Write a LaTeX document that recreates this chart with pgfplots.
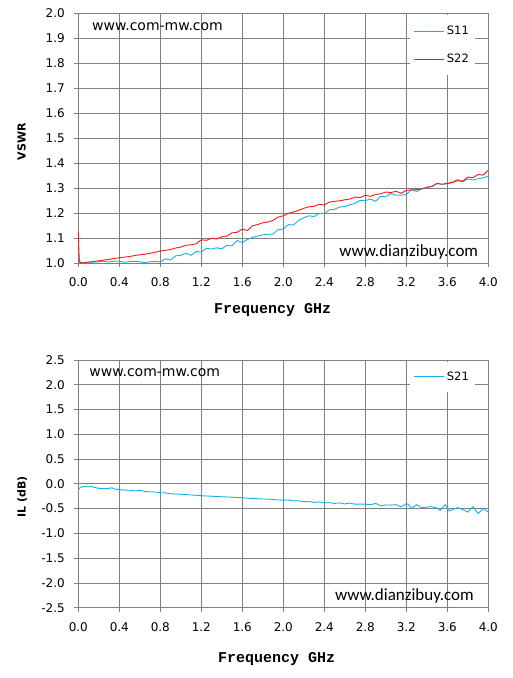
\documentclass[border=0pt]{standalone}
\usepackage{fontspec}
\usepackage{pgfplots}
\pgfplotsset{compat=1.18}
\setmainfont{DejaVu Sans}
\newfontfamily\tickfont{DejaVu Sans}
\newfontfamily\wmB{Carlito}
\newfontfamily\xlabfont{Liberation Mono}
\definecolor{gridgray}{RGB}{128,128,128}
\definecolor{sblue}{RGB}{20,178,235}
\definecolor{sred}{RGB}{255,20,20}
\pgfplotsset{
  myaxis/.style={
    scale only axis, width=410pt, anchor=south west,
    xmin=0, xmax=4,
    xtick={0,0.4,0.8,1.2,1.6,2.0,2.4,2.8,3.2,3.6,4.0},
    grid=major,
    major grid style={draw=gridgray, line width=0.8pt},
    axis line style={draw=gridgray, line width=0.8pt},
    every tick/.style={draw=gridgray, line width=0.8pt},
    tick align=outside, major tick length=4pt,
    xtick pos=bottom, ytick pos=left,
    tick label style={font=\tickfont\fontsize{12}{14}\selectfont, text=black},
    xticklabel style={yshift=-7pt},
    yticklabel style={xshift=-6pt},
    /pgf/number format/.cd, fixed, fixed zerofill, precision=1, assume math mode=true,
    /pgfplots/.cd,
    legend style={draw=none, fill=white, anchor=north east,
      font=\tickfont\fontsize{11.5}{13}\selectfont, cells={anchor=west},
      inner xsep=4pt},
    legend image code/.code={\draw[#1] (0pt,0pt) -- (30pt,0pt);},
    clip=false,
  }
}
\begin{document}
\begin{tikzpicture}
\path[use as bounding box] (0pt,0pt) rectangle (512pt,678pt);
% ---------------- top: VSWR ----------------
\begin{axis}[myaxis, at={(78.3pt,414.7pt)}, height=250pt,
  ymin=1, ymax=2,
  ytick={1.0,1.1,1.2,1.3,1.4,1.5,1.6,1.7,1.8,1.9,2.0},
  legend style={at={(rel axis cs:0.9676,0.993)}, inner ysep=9pt, row sep=14pt},
]
\addplot[sblue, line width=0.9pt] coordinates {
(0.000,1.025) (0.010,1.018) (0.020,1.003) (0.05,1.002) (0.10,1.004) (0.15,1.005)
(0.20,1.006) (0.25,1.008) (0.30,1.005) (0.35,1.009) (0.40,1.008) (0.45,1.004)
(0.50,1.007) (0.55,1.008) (0.60,1.006) (0.65,1.003) (0.70,1.006) (0.75,1.008)
(0.80,1.005) (0.85,1.018) (0.90,1.013) (0.95,1.030) (1.00,1.032) (1.05,1.040)
(1.10,1.032) (1.15,1.047) (1.20,1.045) (1.25,1.060) (1.30,1.057) (1.35,1.062)
(1.40,1.058) (1.45,1.072) (1.50,1.070) (1.55,1.091) (1.60,1.083) (1.65,1.095)
(1.70,1.104) (1.75,1.109) (1.80,1.114) (1.85,1.116) (1.90,1.117) (1.95,1.135)
(2.00,1.137) (2.05,1.155) (2.10,1.153) (2.15,1.172) (2.20,1.182) (2.25,1.190)
(2.30,1.187) (2.35,1.200) (2.40,1.199) (2.45,1.214) (2.50,1.216) (2.55,1.225)
(2.60,1.227) (2.65,1.234) (2.70,1.240) (2.75,1.252) (2.80,1.251) (2.85,1.257)
(2.90,1.248) (2.95,1.268) (3.00,1.266) (3.05,1.280) (3.10,1.272) (3.15,1.273)
(3.20,1.275) (3.25,1.295) (3.30,1.287) (3.35,1.299) (3.40,1.303) (3.45,1.308)
(3.50,1.318) (3.55,1.316) (3.60,1.318) (3.65,1.322) (3.70,1.330) (3.75,1.327)
(3.80,1.337) (3.85,1.333) (3.90,1.338) (3.95,1.342) (4.00,1.348)
};
\addlegendentry{S11}
\addplot[sred, line width=0.9pt] coordinates {
(0.000,1.125) (0.010,1.005) (0.030,1.000) (0.05,1.002) (0.10,1.005) (0.15,1.007)
(0.20,1.010) (0.25,1.013) (0.30,1.016) (0.35,1.019) (0.40,1.022) (0.45,1.025)
(0.50,1.027) (0.55,1.031) (0.60,1.034) (0.65,1.036) (0.70,1.040) (0.75,1.044)
(0.80,1.049) (0.85,1.052) (0.90,1.055) (0.95,1.061) (1.00,1.065) (1.05,1.072)
(1.10,1.074) (1.15,1.078) (1.20,1.094) (1.25,1.092) (1.30,1.100) (1.35,1.097)
(1.40,1.106) (1.45,1.109) (1.50,1.122) (1.55,1.124) (1.60,1.137) (1.65,1.131)
(1.70,1.150) (1.75,1.155) (1.80,1.162) (1.85,1.165) (1.90,1.172) (1.95,1.185)
(2.00,1.190) (2.05,1.200) (2.10,1.205) (2.15,1.212) (2.20,1.220) (2.25,1.226)
(2.30,1.228) (2.35,1.236) (2.40,1.233) (2.45,1.245) (2.50,1.248) (2.55,1.250)
(2.60,1.254) (2.65,1.257) (2.70,1.265) (2.75,1.263) (2.80,1.272) (2.85,1.268)
(2.90,1.275) (2.95,1.278) (3.00,1.285) (3.05,1.283) (3.10,1.288) (3.15,1.280)
(3.20,1.292) (3.25,1.293) (3.30,1.295) (3.35,1.297) (3.40,1.304) (3.45,1.307)
(3.50,1.320) (3.55,1.316) (3.60,1.320) (3.65,1.324) (3.70,1.334) (3.75,1.328)
(3.80,1.345) (3.85,1.342) (3.90,1.355) (3.95,1.353) (4.00,1.372)
};
\addlegendentry{S22}
\node[anchor=base west, inner sep=0pt, font=\fontsize{14}{16}\selectfont] at (axis cs:0.134,1.930) {www.com-mw.com};
\node[anchor=base west, inner sep=0pt, font=\wmB\fontsize{17}{19}\selectfont] at (axis cs:2.546,1.026) {www.dianzibuy.com};
\node[rotate=90, anchor=center, font=\bfseries\fontsize{11}{13}\selectfont] at (rel axis cs:-0.138,0.486) {VSWR};
\node[anchor=center, font=\xlabfont\bfseries\fontsize{15}{17}\selectfont] at (rel axis cs:0.474,-0.187) {Frequency GHz};
\end{axis}
% ---------------- bottom: IL ----------------
\begin{axis}[myaxis, at={(78.3pt,70.3pt)}, height=247.7pt,
  ymin=-2.5, ymax=2.5,
  ytick={-2.5,-2.0,-1.5,-1.0,-0.5,0.0,0.5,1.0,1.5,2.0,2.5},
  legend style={at={(rel axis cs:0.9676,0.994)}, inner ysep=8pt},
]
\addplot[sblue, line width=0.9pt] coordinates {
(0.00,-0.12) (0.02,-0.07) (0.05,-0.055) (0.10,-0.06) (0.13,-0.05) (0.15,-0.07)
(0.20,-0.09) (0.25,-0.095) (0.30,-0.09) (0.33,-0.08) (0.35,-0.10) (0.40,-0.12)
(0.45,-0.125) (0.50,-0.13) (0.55,-0.14) (0.60,-0.13) (0.65,-0.155) (0.70,-0.16)
(0.75,-0.165) (0.80,-0.18) (0.85,-0.18) (0.90,-0.20) (0.95,-0.205) (1.00,-0.21)
(1.05,-0.215) (1.10,-0.225) (1.15,-0.23) (1.20,-0.24) (1.25,-0.245) (1.30,-0.25)
(1.35,-0.255) (1.40,-0.26) (1.45,-0.265) (1.50,-0.27) (1.55,-0.275) (1.60,-0.28)
(1.65,-0.29) (1.70,-0.295) (1.75,-0.30) (1.80,-0.305) (1.85,-0.31) (1.90,-0.315)
(1.95,-0.325) (2.00,-0.33) (2.05,-0.325) (2.10,-0.345) (2.15,-0.34) (2.20,-0.36)
(2.25,-0.355) (2.30,-0.375) (2.35,-0.365) (2.40,-0.385) (2.45,-0.38) (2.50,-0.395)
(2.55,-0.385) (2.60,-0.405) (2.65,-0.39) (2.70,-0.41) (2.75,-0.41) (2.80,-0.41)
(2.85,-0.42) (2.90,-0.395) (2.95,-0.44) (3.00,-0.425) (3.05,-0.43) (3.10,-0.42)
(3.15,-0.465) (3.20,-0.40) (3.22,-0.41) (3.25,-0.50) (3.30,-0.42) (3.35,-0.48)
(3.40,-0.47) (3.45,-0.46) (3.50,-0.49) (3.53,-0.54) (3.58,-0.42) (3.62,-0.55)
(3.65,-0.52) (3.70,-0.48) (3.75,-0.52) (3.80,-0.57) (3.85,-0.46) (3.90,-0.60)
(3.95,-0.50) (4.00,-0.57)
};
\addlegendentry{S21}
\node[anchor=base west, inner sep=0pt, font=\fontsize{14}{16}\selectfont] at (axis cs:0.107,2.176) {www.com-mw.com};
\node[anchor=base west, inner sep=0pt, font=\wmB\fontsize{17}{19}\selectfont] at (axis cs:2.504,-2.346) {www.dianzibuy.com};
\node[rotate=90, anchor=center, font=\bfseries\fontsize{11}{13}\selectfont] at (rel axis cs:-0.137,0.447) {IL (dB)};
\node[anchor=center, font=\xlabfont\bfseries\fontsize{15}{17}\selectfont] at (rel axis cs:0.484,-0.208) {Frequency GHz};
\end{axis}
\end{tikzpicture}
\end{document}
